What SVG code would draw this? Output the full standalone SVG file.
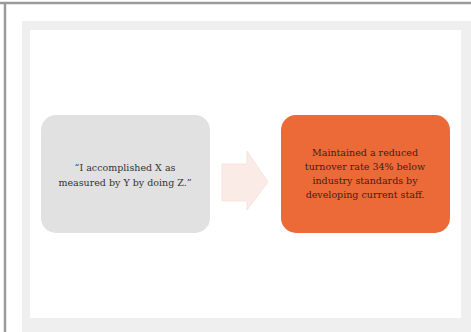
<svg xmlns="http://www.w3.org/2000/svg" width="471" height="332" viewBox="0 0 471 332">
<style>
.t{font-family:"DejaVu Serif","Liberation Serif",serif;font-size:9.5px;text-anchor:middle;}
</style>
<rect width="471" height="332" fill="#ffffff"/>
<line x1="0" y1="3" x2="471" y2="3" stroke="#9a9a9a" stroke-width="2.5"/>
<line x1="5" y1="3" x2="5" y2="332" stroke="#9a9a9a" stroke-width="2.5"/>
<rect x="22" y="21" width="449" height="311" fill="#efefef"/>
<rect x="30" y="30" width="431" height="288" fill="#ffffff"/>
<g id="connectors">
<path d="M222 164 H247 V151 L268 182 L247 210 V201 H222 Z" fill="#fbebe6" stroke="#f7e0d9" stroke-width="0.8"/>
</g>
<g id="node-left">
<rect x="41" y="115" width="169" height="118" rx="15" fill="#e1e1e1"/>
<text class="t" x="125" y="171" fill="#333333">“I accomplished X as</text>
<text class="t" x="125" y="186" fill="#333333">measured by Y by doing Z.”</text>
</g>
<g id="node-right">
<rect x="281" y="115" width="169" height="118" rx="15" fill="#eb6a38"/>
<text class="t" x="365" y="156" fill="#3a2418">Maintained a reduced</text>
<text class="t" x="365" y="170" fill="#3a2418">turnover rate 34% below</text>
<text class="t" x="365" y="184" fill="#3a2418">industry standards by</text>
<text class="t" x="365" y="198" fill="#3a2418">developing current staff.</text>
</g>
</svg>
